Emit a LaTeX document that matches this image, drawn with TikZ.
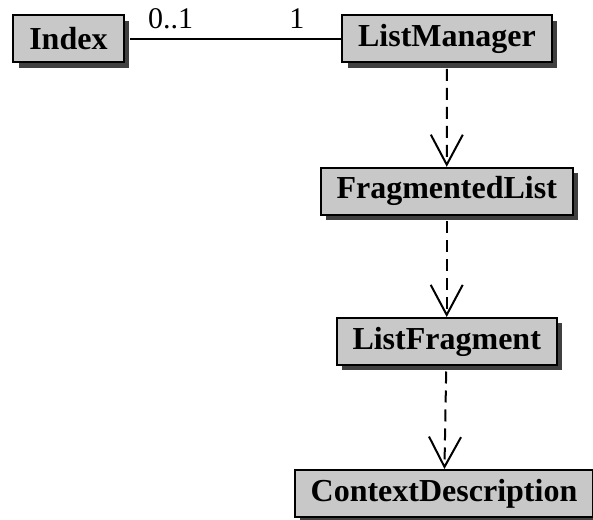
\documentclass[tikz,border=0pt]{standalone}
\usepackage{fontspec}
\setmainfont{Liberation Serif}
\usepackage{tikz}
\usetikzlibrary{arrows.meta,shadows,positioning}
\definecolor{boxgray}{HTML}{C8C8C8}
\definecolor{shadegray}{HTML}{404040}

\begin{document}
\begin{tikzpicture}[x=1pt, y=1pt,
  class/.style={rectangle, draw, line width=2pt, fill=boxgray, minimum height=47pt,
    inner xsep=16pt, font=\fontsize{32}{38}\selectfont\bfseries,
    drop shadow={shadow xshift=5.5pt, shadow yshift=-5.5pt, fill=shadegray, opacity=1}},
  mult/.style={inner sep=0pt, font=\fontsize{30}{36}\selectfont},
  depend/.style={line width=2pt, dash pattern=on 12pt off 7pt, shorten <=5.5pt,
    -{Straight Barb[length=30pt, width=32pt, line width=2pt]}}
]
  \useasboundingbox (0,0) rectangle (593,519);
  \node[class] (I)  at (68.4, 480)  {Index};
  \node[class] (LM) at (447, 480)   {ListManager};
  \node[class] (FL) at (446.7, 327.7) {FragmentedList};
  \node[class] (LF) at (446.7, 177.5) {ListFragment};
  \node[class] (CD) at (444, 25.5)  {ContextDescription};
  \draw[line width=2pt, shorten <=5.5pt] (I) --
    node[mult, pos=0.213, above=9pt] {0..1}
    node[mult, pos=0.796, above=9pt] {1} (LM);
  \draw[depend] (LM) -- (FL);
  \draw[depend] (FL) -- (LF);
  \draw[depend] (LF) -- (CD);
\end{tikzpicture}
\end{document}
